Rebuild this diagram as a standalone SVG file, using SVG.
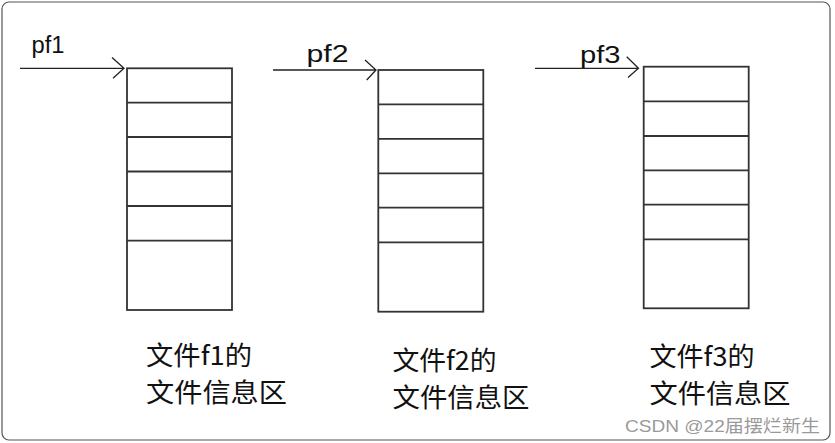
<svg xmlns="http://www.w3.org/2000/svg" width="835" height="443" viewBox="0 0 835 443">
<style>
.frame{fill:#fff;stroke:#555;stroke-width:1.2}
.box{fill:#fff;stroke:#333;stroke-width:1.8}
.div{stroke:#333;stroke-width:1.8}
.conn{stroke:#222;stroke-width:1.3;fill:none}
.lbl{font-family:"Liberation Sans",Arial,sans-serif;font-size:23px;fill:#111}
.cap{font-family:"Noto Sans CJK SC","Liberation Sans",sans-serif;font-size:26px;fill:#111}
.wm{font-family:"Liberation Sans","Noto Sans CJK SC",sans-serif;font-size:17px;fill:#9a9a9a}
</style>
<rect class="frame" x="2" y="2" width="828" height="438" rx="7"/>
<g id="connectors">
<path class="conn" d="M20 68.3H124M112 57.5L124 68.3L113 78.3"/>
<path class="conn" d="M273 70H376M365 60L376 70L366.7 80"/>
<path class="conn" d="M535 68.3H638.5M626.7 56.7L638.5 68.3L628 77.5"/>
</g>
<g id="pf1">
<text class="lbl" x="31.5" y="53.3" textLength="33" lengthAdjust="spacingAndGlyphs">pf1</text>
</g>
<g id="pf2">
<text class="lbl" x="306.5" y="61.7" textLength="42" lengthAdjust="spacingAndGlyphs">pf2</text>
</g>
<g id="pf3">
<text class="lbl" x="580" y="63" textLength="40.5" lengthAdjust="spacingAndGlyphs">pf3</text>
</g>
<g id="file1">
<rect class="box" x="127" y="68.3" width="105" height="241.7"/>
<path class="div" d="M127 102.7H232M127 137H232M127 171.5H232M127 206H232M127 240.6H232"/>
<text class="cap" x="146" y="365" textLength="106" lengthAdjust="spacingAndGlyphs">文件f1的</text>
<text class="cap" x="146" y="402" textLength="141" lengthAdjust="spacingAndGlyphs">文件信息区</text>
</g>
<g id="file2">
<rect class="box" x="378.3" y="70" width="105" height="241.7"/>
<path class="div" d="M378.3 104.4H483.3M378.3 138.9H483.3M378.3 173.3H483.3M378.3 207.7H483.3M378.3 242.3H483.3"/>
<text class="cap" x="392.5" y="370" textLength="104" lengthAdjust="spacingAndGlyphs">文件f2的</text>
<text class="cap" x="392.5" y="407" textLength="137" lengthAdjust="spacingAndGlyphs">文件信息区</text>
</g>
<g id="file3">
<rect class="box" x="643.7" y="66.7" width="105" height="241.6"/>
<path class="div" d="M643.7 101.3H748.7M643.7 136H748.7M643.7 170.3H748.7M643.7 204.7H748.7M643.7 239.3H748.7"/>
<text class="cap" x="649.5" y="366" textLength="105" lengthAdjust="spacingAndGlyphs">文件f3的</text>
<text class="cap" x="649.5" y="403" textLength="141" lengthAdjust="spacingAndGlyphs">文件信息区</text>
</g>
<text class="wm" x="625" y="431.5" textLength="195" lengthAdjust="spacingAndGlyphs">CSDN @22届摆烂新生</text>
</svg>
